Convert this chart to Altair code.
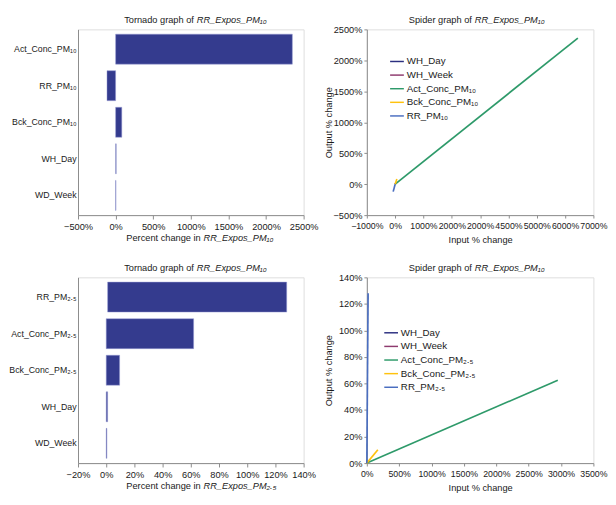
import altair as alt
import pandas as pd

FONT = "Liberation Sans"
TXT = "#1a1a1a"
AXC = "#8a8a8a"
BAR = "#343B8E"

# ---------------- data ----------------
pm10_vars = ["Act_Conc_PM₁₀", "RR_PM₁₀", "Bck_Conc_PM₁₀", "WH_Day", "WD_Week"]
pm10_low = [0, -115, 0, 0, 0]
pm10_high = [2350, 0, 82, 8, 5]
pm10_ticks = [-500, 0, 500, 1000, 1500, 2000, 2500]

pm25_vars = ["RR_PM₂.₅", "Act_Conc_PM₂.₅", "Bck_Conc_PM₂.₅", "WH_Day", "WD_Week"]
pm25_low = [1, 0, 0, 0, 0]
pm25_high = [128, 62, 9.5, 1, 0.5]
pm25_ticks = [-20, 0, 20, 40, 60, 80, 100, 120, 140]

spider_colors = ["#2B2F80", "#8E3A6E", "#2E9A6A", "#FFC20E", "#4A6EC0"]

sp10_order = ["WH_Day", "WH_Week", "Act_Conc_PM₁₀", "Bck_Conc_PM₁₀", "RR_PM₁₀"]
sp10_series = ["WH_Day", "WH_Day", "WH_Week", "WH_Week",
               "Act_Conc_PM₁₀", "Act_Conc_PM₁₀", "Bck_Conc_PM₁₀", "Bck_Conc_PM₁₀",
               "RR_PM₁₀", "RR_PM₁₀"]
sp10_input = [0, 10, 0, 5, 0, 6450, 0, 60, -70, 0]
sp10_output = [0, 8, 0, 5, 0, 2360, 0, 85, -120, 0]
sp10_xticks = [-1000, 0, 1000, 2000, 3000, 4000, 5000, 6000, 7000]
sp10_xlabels = ["−1000%", "0%", "1000%", "2000%", "2000%", "4500%", "5000%", "6000%", "7000%"]
sp10_yticks = [-500, 0, 500, 1000, 1500, 2000, 2500]

sp25_order = ["WH_Day", "WH_Week", "Act_Conc_PM₂.₅", "Bck_Conc_PM₂.₅", "RR_PM₂.₅"]
sp25_series = ["WH_Day", "WH_Day", "WH_Week", "WH_Week",
               "Act_Conc_PM₂.₅", "Act_Conc_PM₂.₅", "Bck_Conc_PM₂.₅", "Bck_Conc_PM₂.₅",
               "RR_PM₂.₅", "RR_PM₂.₅"]
sp25_input = [0, 10, 0, 5, 0, 2950, 0, 170, 0, 20]
sp25_output = [0, 1, 0, 0.5, 0, 62.5, 0, 10, 0, 128]
sp25_xticks = [0, 500, 1000, 1500, 2000, 2500, 3000, 3500]
sp25_xlabels = [f"{v}%" for v in sp25_xticks]
sp25_yticks = [0, 20, 40, 60, 80, 100, 120, 140]

tornado_title = "Tornado graph of"
spider_title = "Spider graph of"
target10 = "RR_Expos_PM₁₀"
target25 = "RR_Expos_PM₂.₅"
xtitle_plain = "Percent change in"

WL, WR, H = 232, 233, 191
FS = 9.5


def label_expr(ticks, labels):
    parts = [f"datum.value == {t} ? '{l}'" for t, l in zip(ticks, labels)]
    return " : ".join(parts) + " : ''"


def pct_labels(ticks):
    return [("−" if t < 0 else "") + f"{abs(t)}%" for t in ticks]


def split_text(w, frac, y, plain, ital):
    df = pd.DataFrame({"p": [plain], "i": [ital]})
    a = alt.Chart(df).mark_text(align="right", baseline="middle", fontSize=FS, font=FONT,
                                color=TXT).encode(x=alt.value(w * frac - 1.5), y=alt.value(y), text="p:N")
    b = alt.Chart(df).mark_text(align="left", baseline="middle", fontSize=FS, font=FONT,
                                fontStyle="italic", color=TXT).encode(
        x=alt.value(w * frac + 1.5), y=alt.value(y), text="i:N")
    return [a, b]


def tornado(vars_, low, high, ticks, title_target, axis_target):
    df = pd.DataFrame({"var": vars_, "low": low, "high": high})
    bars = alt.Chart(df).mark_bar(color=BAR, stroke="#9a9dd6", strokeWidth=0.5).encode(
        x=alt.X("low:Q",
                scale=alt.Scale(domain=[ticks[0], ticks[-1]], nice=False, zero=False),
                axis=alt.Axis(values=ticks, labelExpr=label_expr(ticks, pct_labels(ticks)),
                              title=None, grid=False, tickSize=4, labelPadding=3,
                              labelOverlap=False, labelFlush=False,
                              domainColor=AXC, tickColor=AXC, labelColor=TXT,
                              labelFont=FONT, labelFontSize=FS)),
        x2="high:Q",
        y=alt.Y("var:N", sort=vars_,
                scale=alt.Scale(paddingInner=0.18, paddingOuter=0.13),
                axis=alt.Axis(title=None, ticks=False, labelPadding=2, domainColor=AXC,
                              labelColor=TXT, labelFont=FONT, labelFontSize=9)),
    )
    layers = [bars]
    layers += split_text(WL, 0.52, -9.5, tornado_title, title_target)
    layers += split_text(WL, 0.55, H + 24, xtitle_plain, axis_target)
    return alt.layer(*layers).properties(width=WL, height=H)


def spider(series, xin, yout, order, xticks, xlabels, yticks, legx, legy):
    df = pd.DataFrame({"s": series, "x": xin, "y": yout, "o": list(range(len(series)))})
    lines = alt.Chart(df).mark_line(strokeWidth=1.7).encode(
        x=alt.X("x:Q", scale=alt.Scale(domain=[xticks[0], xticks[-1]], nice=False, zero=False),
                axis=alt.Axis(values=xticks, labelExpr=label_expr(xticks, xlabels),
                              labelOverlap=False, labelFlush=False,
                              title="Input % change", titleX=WR / 2, titleY=25,
                              titleBaseline="middle", titleAlign="center",
                              grid=False, tickSize=3, labelPadding=4,
                              domainColor=AXC, tickColor=AXC, labelColor=TXT,
                              labelFont=FONT, labelFontSize=9, titleFont=FONT,
                              titleFontSize=FS, titleFontWeight="normal", titleColor=TXT)),
        y=alt.Y("y:Q", scale=alt.Scale(domain=[yticks[0], yticks[-1]], nice=False, zero=False),
                axis=alt.Axis(values=yticks, labelExpr=label_expr(yticks, pct_labels(yticks)),
                              labelOverlap=False, labelFlush=False,
                              title="Output % change", titleX=-39, titleY=H / 2,
                              titleAngle=270, titleBaseline="middle", titleAlign="center",
                              grid=False, tickSize=3, labelPadding=2,
                              domainColor=AXC, tickColor=AXC, labelColor=TXT,
                              labelFont=FONT, labelFontSize=FS, titleFont=FONT,
                              titleFontSize=FS, titleFontWeight="normal", titleColor=TXT)),
        color=alt.Color("s:N", scale=alt.Scale(domain=order, range=spider_colors),
                        legend=alt.Legend(title=None, orient="none", legendX=legx, legendY=legy,
                                          direction="vertical", symbolType="stroke",
                                          symbolSize=200, symbolStrokeWidth=1.5,
                                          labelFont=FONT, labelFontSize=10, labelColor=TXT,
                                          rowPadding=1, padding=0, labelOffset=2)),
        order="o:Q",
        detail="s:N",
    )
    layers = [lines]
    layers += split_text(WR, 0.47, -9.5, spider_title, target10)
    return alt.layer(*layers).properties(width=WR, height=H)


tl = tornado(pm10_vars, pm10_low, pm10_high, pm10_ticks, target10, target10)
bl = tornado(pm25_vars, pm25_low, pm25_high, pm25_ticks, target10, target25)
tr = spider(sp10_series, sp10_input, sp10_output, sp10_order, sp10_xticks, sp10_xlabels,
            sp10_yticks, 23, 25)
br = spider(sp25_series, sp25_input, sp25_output, sp25_order, sp25_xticks, sp25_xlabels,
            sp25_yticks, 17, 49)

chart = alt.concat(tl, tr, bl, br, columns=2, spacing={"row": 64, "column": 65},
                   bounds="flush").resolve_scale(
    x="independent", y="independent", color="independent"
).resolve_legend(color="independent").properties(
    padding={"left": 0, "top": 0, "right": 0, "bottom": 3}
).configure_view(stroke="transparent").configure(font=FONT)

chart.save("out.html", embed_options={"renderer": "svg", "actions": False})
